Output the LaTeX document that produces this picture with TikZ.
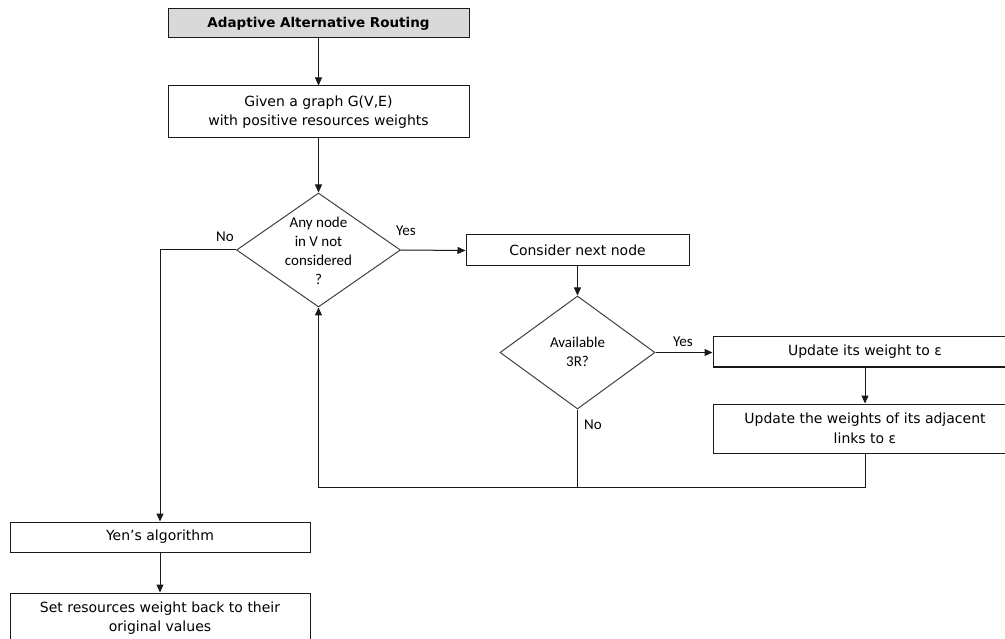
\documentclass[tikz,border=0pt]{standalone}
\usepackage{fontspec}
\setmainfont{DejaVu Sans}
\newfontfamily\calib{Carlito}
\usetikzlibrary{shapes.geometric,arrows.meta}
\begin{document}
\begin{tikzpicture}[x=1pt,y=-1pt,
  line width=1pt,
  box/.style={draw=black!90,rectangle,inner sep=0pt,align=center,
    font=\fontsize{14}{19.5}\selectfont},
  decision/.style={draw=black!75,diamond,inner sep=0pt},
  dtext/.style={align=center,font=\calib\fontsize{15}{19}\selectfont},
  lbl/.style={font=\calib\fontsize{15}{18}\selectfont},
  arr/.style={-{Triangle[length=8pt,width=7pt]},draw=black!90},
  conn/.style={draw=black!90}]
\useasboundingbox (0,0) rectangle (1005,639);
\clip (0,0) rectangle (1005,639);

% process boxes
\node[box,fill=black!15,minimum width=301,minimum height=29,
  font=\bfseries\fontsize{13.5}{15}\selectfont] (title) at (318.5,23.5) {Adaptive Alternative Routing};
\node[box,minimum width=301,minimum height=52] (given) at (318.5,112)
  {Given a graph G(V,E)\\with positive resources weights};
\node[box,minimum width=223,minimum height=31] (next) at (577.5,250.5) {Consider next node};
\node[box,minimum width=304,minimum height=30] (upd) at (865,352) {Update its weight to ε};
\node[box,minimum width=304,minimum height=49] (adj) at (865,428.5)
  {Update the weights of its adjacent\\links to ε};
\node[box,minimum width=300,minimum height=30] (yen) at (160,537) {Yen’s algorithm};
\node[box,minimum width=300,minimum height=50] (reset) at (160,618)
  {Set resources weight back to their\\original values};

% decisions
\node[decision,minimum width=164,minimum height=114] (any) at (318.5,250) {};
\node[dtext] (anyt) at (318.5,251) {Any node\\in V not\\considered\\?};
\node[decision,minimum width=155,minimum height=113] (avail) at (577.5,352.5) {};
\node[dtext] (availt) at (577.5,352) {Available\\3R?};

% branch labels
\node[lbl] (yes1) at (406,231) {Yes};
\node[lbl] (no1) at (225,237) {No};
\node[lbl] (yes2) at (683,342) {Yes};
\node[lbl] (no2) at (593,425) {No};

% loop-back junction
\coordinate (join) at (318.5,487);

% connectors
\draw[arr] (title) -- (given);
\draw[arr] (given) -- (any.north);
\draw[arr] (any.east) -- (next.west);
\draw[arr] (next) -- (avail.north);
\draw[arr] (avail.east) -- (avail.east -| upd.west);
\draw[arr] (upd) -- (adj);
\draw[conn] (avail.south) -- (avail.south |- join);
\draw[arr] (adj.south) |- (join) -- (any.south);
\draw[arr] (any.west) -| (yen.north);
\draw[arr] (yen) -- (reset);
\end{tikzpicture}
\end{document}
